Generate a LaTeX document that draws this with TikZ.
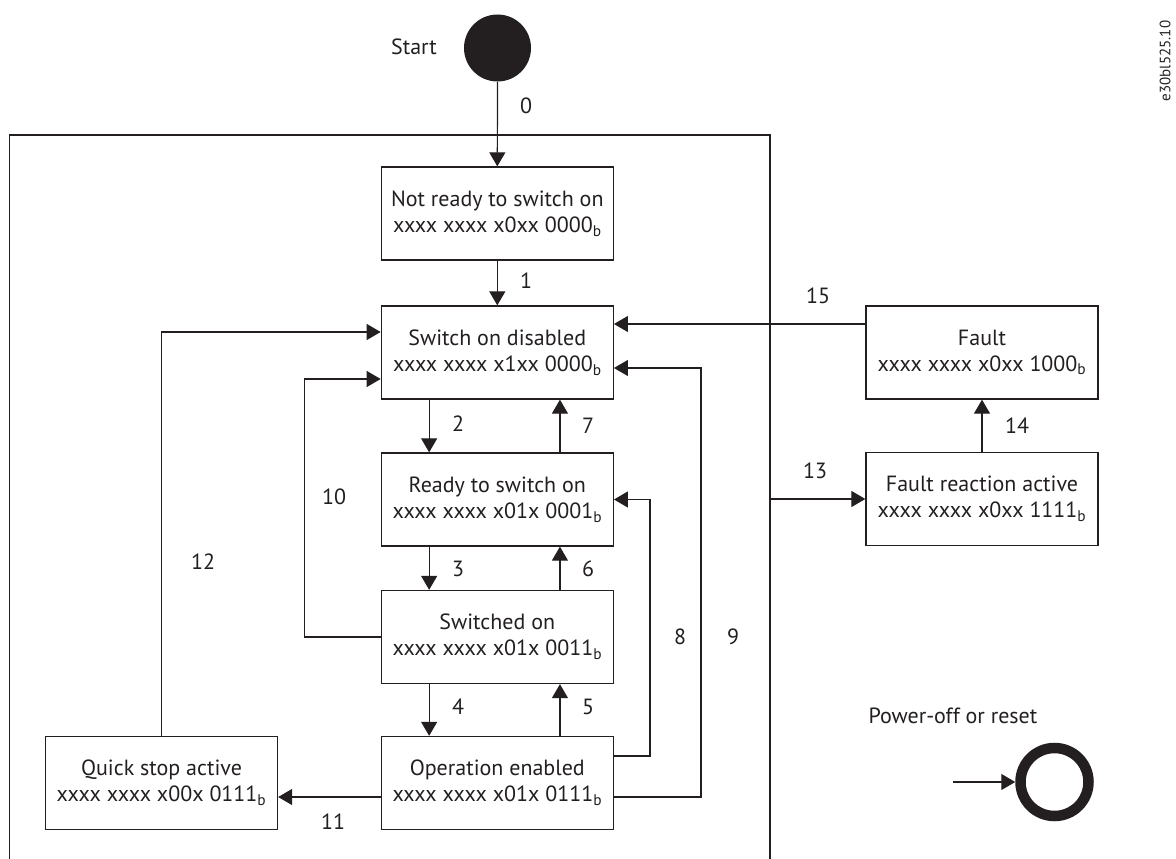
\documentclass[tikz,border=0pt]{standalone}
\usepackage{fontspec}
\setmainfont{PT Sans}
\usetikzlibrary{arrows.meta}
\definecolor{ink}{HTML}{231F20}
\newcommand{\bsub}{\textsubscript{b}}
\begin{document}
\begin{tikzpicture}[x=1pt,y=-1pt,
  every node/.style={font=\fontsize{22}{26}\selectfont, text=ink},
  state/.style={draw=ink, line width=1.3pt, minimum width=232pt, minimum height=93pt, inner sep=0pt, align=center},
  conn/.style={draw=ink, line width=1.2pt, -{Triangle[length=14pt,width=16pt]}},
  plain/.style={draw=ink, line width=1.2pt},
  lbl/.style={inner sep=0pt}]
\useasboundingbox (0,0) rectangle (1176,859);
% frame
\draw[plain] (9.5,859) -- (9.5,135) -- (770,135) -- (770,859);
\coordinate (f13) at (770,499);
% start
\node[circle, fill=ink, minimum size=67pt, inner sep=0pt] (start) at (497.5,48) {};
\node[lbl] (startlbl) at (414,47) {Start};
% states
\node[state] (notready) at (497.3,213.5) {Not ready to switch on\\xxxx xxxx x0xx 0000\bsub};
\node[state] (sod) at (497.3,352.5) {Switch on disabled\\xxxx xxxx x1xx 0000\bsub};
\node[state] (rtso) at (497.3,499.5) {Ready to switch on\\xxxx xxxx x01x 0001\bsub};
\node[state] (swon) at (497.3,637) {Switched on\\xxxx xxxx x01x 0011\bsub};
\node[state] (opena) at (497.3,783) {Operation enabled\\xxxx xxxx x01x 0111\bsub};
\node[state] (qsa) at (161.5,783) {Quick stop active\\xxxx xxxx x00x 0111\bsub};
\node[state] (fault) at (982,352.5) {Fault\\xxxx xxxx x0xx 1000\bsub};
\node[state] (fra) at (982,499) {Fault reaction active\\xxxx xxxx x0xx 1111\bsub};
% connectors
\draw[conn] (start.south) -- (notready.north);
\draw[conn] (notready.south) -- (sod.north);
\draw[conn] ([xshift=48.5pt]sod.south west) -- ([xshift=48.5pt]rtso.north west);
\draw[conn] ([xshift=-54pt]rtso.north east) -- ([xshift=-54pt]sod.south east);
\draw[conn] ([xshift=48.5pt]rtso.south west) -- ([xshift=48.5pt]swon.north west);
\draw[conn] ([xshift=-54pt]swon.north east) -- ([xshift=-54pt]rtso.south east);
\draw[conn] ([xshift=48.5pt]swon.south west) -- ([xshift=48.5pt]opena.north west);
\draw[conn] ([xshift=-54pt]opena.north east) -- ([xshift=-54pt]swon.south east);
\draw[conn] (qsa.north) |- ([yshift=20.5pt]sod.west);
\draw[conn] (swon.west) -- ++(-76.3,0) |- ([yshift=-26.5pt]sod.west);
\draw[conn] ([yshift=27pt]opena.east) -- ++(36,0) |- (rtso.east);
\draw[conn] ([yshift=-14pt]opena.east) -- ++(87,0) |- ([yshift=-15.5pt]sod.east);
\draw[conn] ([yshift=-14pt]opena.west) -- ([yshift=-14pt]qsa.east);
\draw[conn] ([yshift=28.5pt]fault.west) -- ([yshift=28.5pt]sod.east);
\draw[conn] (f13) -- (fra.west);
\draw[conn] (fra.north) -- (fault.south);
% labels
\node[lbl] (l0) at (526,106) {0};
\node[lbl] (l1) at (526,281) {1};
\node[lbl] (l2) at (458,424) {2};
\node[lbl] (l7) at (588,426) {7};
\node[lbl] (l3) at (458,569) {3};
\node[lbl] (l6) at (588,569) {6};
\node[lbl] (l4) at (458,707) {4};
\node[lbl] (l5) at (588,707) {5};
\node[lbl] (l10) at (334,497) {10};
\node[lbl] (l12) at (203,562) {12};
\node[lbl] (l11) at (333,822) {11};
\node[lbl] (l8) at (680,637) {8};
\node[lbl] (l9) at (733,637) {9};
\node[lbl] (l15) at (818,296) {15};
\node[lbl] (l13) at (815,471) {13};
\node[lbl] (l14) at (1017,426) {14};
% power-off
\node[lbl] (powlbl) at (953,716) {Power-off or reset};
\node[circle, draw=ink, line width=10.5pt, minimum size=68pt, inner sep=0pt, outer sep=5.25pt] (endst) at (1054.5,782) {};
\coordinate (powin) at (953,782);
\draw[conn] (powin) -- (endst.west);
% code
\node[rotate=90, lbl, font=\fontsize{15}{18}\selectfont] (code) at (1165,61) {e30bl525.10};
\end{tikzpicture}
\end{document}
